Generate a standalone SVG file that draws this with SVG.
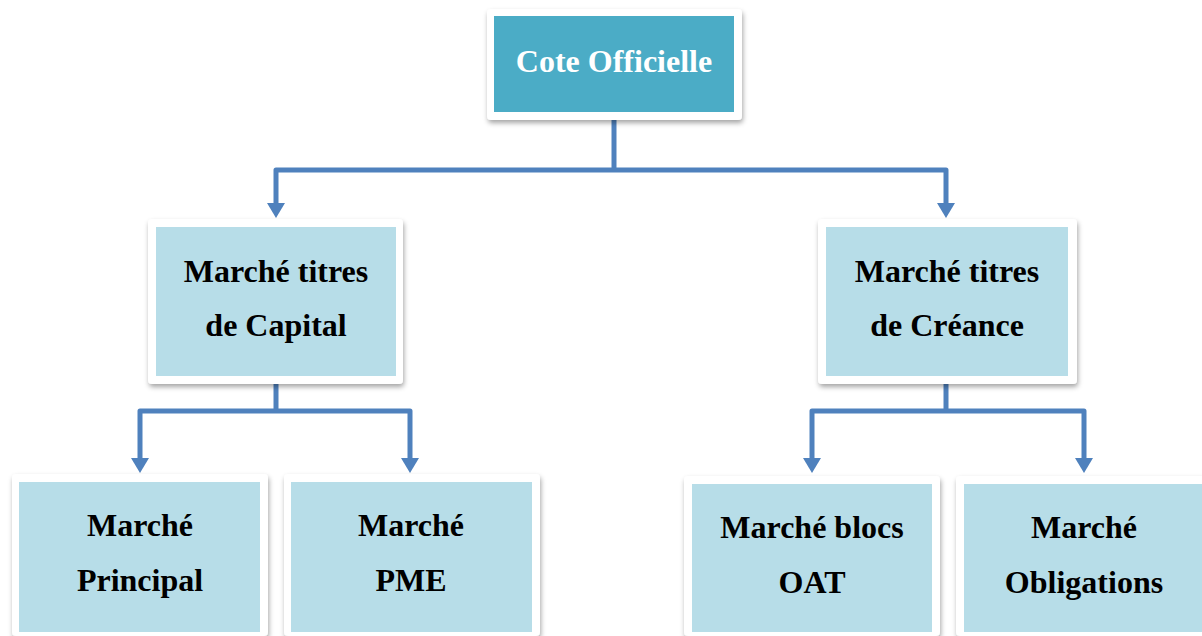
<svg xmlns="http://www.w3.org/2000/svg" width="1202" height="636" viewBox="0 0 1202 636">
<defs>
<filter id="sh" x="-10%" y="-10%" width="120%" height="130%">
<feDropShadow dx="1" dy="3" stdDeviation="2.5" flood-color="#000" flood-opacity="0.35"/>
</filter>
<style>
.frame{fill:#fff;filter:url(#sh)}
.main{fill:#4BACC6}
.sub{fill:#B7DDE8}
.t{font-family:"Liberation Serif","Times New Roman",serif;font-weight:bold;font-size:32px;text-anchor:middle;fill:#000}
.tw{fill:#fff}
.c{fill:none;stroke:#4F81BD;stroke-width:5;stroke-linejoin:round}
.ah{fill:#4F81BD}
</style>
</defs>
<g id="connectors">
<path class="c" d="M614,120 V170"/>
<path class="c" d="M614,170 H276 V204"/>
<path class="c" d="M614,170 H946 V204"/>
<polygon class="ah" points="267,203 285,203 276,218"/>
<polygon class="ah" points="937,203 955,203 946,218"/>
<path class="c" d="M276,384 V411"/>
<path class="c" d="M276,411 H140 V459"/>
<path class="c" d="M276,411 H410 V459"/>
<polygon class="ah" points="131,458 149,458 140,473"/>
<polygon class="ah" points="401,458 419,458 410,473"/>
<path class="c" d="M946,384 V411"/>
<path class="c" d="M946,411 H812 V459"/>
<path class="c" d="M946,411 H1084 V459"/>
<polygon class="ah" points="803,458 821,458 812,473"/>
<polygon class="ah" points="1075,458 1093,458 1084,473"/>
</g>
<g id="cote-officielle">
<rect class="frame" x="487" y="9" width="255" height="111" rx="4"/>
<rect class="main" x="494" y="16" width="240" height="96"/>
<text class="t tw" x="614" y="72">Cote Officielle</text>
</g>
<g id="titres-capital">
<rect class="frame" x="148" y="219" width="255" height="165" rx="4"/>
<rect class="sub" x="156" y="227" width="240" height="149"/>
<text class="t" x="276" y="282">Marché titres</text>
<text class="t" x="276" y="336">de Capital</text>
</g>
<g id="titres-creance">
<rect class="frame" x="818" y="219" width="259" height="165" rx="4"/>
<rect class="sub" x="826" y="227" width="242" height="149"/>
<text class="t" x="947" y="282">Marché titres</text>
<text class="t" x="947" y="336">de Créance</text>
</g>
<g id="marche-principal">
<rect class="frame" x="12" y="474" width="256" height="162" rx="4"/>
<rect class="sub" x="19" y="482" width="241" height="150"/>
<text class="t" x="140" y="536">Marché</text>
<text class="t" x="140" y="591">Principal</text>
</g>
<g id="marche-pme">
<rect class="frame" x="284" y="474" width="256" height="162" rx="4"/>
<rect class="sub" x="291" y="482" width="241" height="150"/>
<text class="t" x="411" y="536">Marché</text>
<text class="t" x="411" y="591">PME</text>
</g>
<g id="marche-blocs-oat">
<rect class="frame" x="684" y="476" width="256" height="160" rx="4"/>
<rect class="sub" x="692" y="484" width="240" height="148"/>
<text class="t" x="812" y="538">Marché blocs</text>
<text class="t" x="812" y="593">OAT</text>
</g>
<g id="marche-obligations">
<rect class="frame" x="956" y="476" width="256" height="160" rx="4"/>
<rect class="sub" x="964" y="484" width="238" height="148"/>
<text class="t" x="1084" y="538">Marché</text>
<text class="t" x="1084" y="593">Obligations</text>
</g>
</svg>
